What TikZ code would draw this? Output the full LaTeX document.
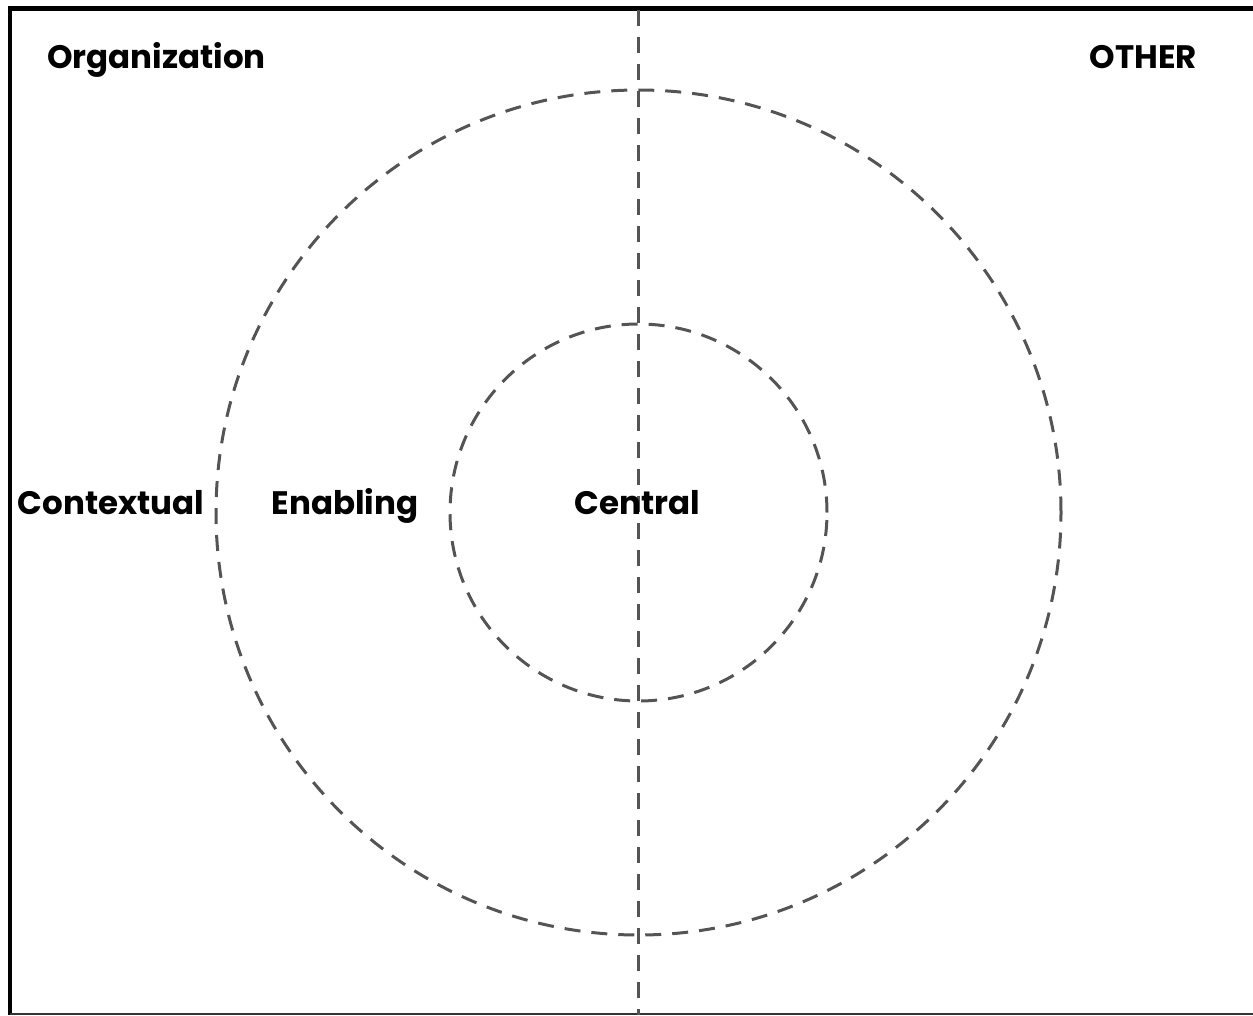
\documentclass[tikz,border=0pt]{standalone}
\usepackage{fontspec}
\setmainfont{Poppins}
\usepackage{tikz}

\begin{document}
\begin{tikzpicture}[x=1pt,y=-1pt]
	\tikzset{ring/.style={shape=circle,draw=black!67,line width=3pt,dash pattern=on 16pt off 11pt,inner sep=0pt},
		lbl/.style={font=\fontsize{32.5}{38}\selectfont\bfseries,inner sep=0pt,anchor=base}}
	\useasboundingbox (0,0) rectangle (1253,1015);

	% frame
	\coordinate (tl) at (10, 8.5);
	\coordinate (tr) at (1253, 8.5);
	\coordinate (bl) at (10, 1015);
	\coordinate (br) at (1253, 1013.5);
	\draw[line width=4.5pt] (tr) -- (tl) -- (bl);
	\draw[line width=2pt, black!80] (10, 1013.5) -- (br);

	% rings
	\node[ring, minimum size=845pt] (outer) at (638.5, 512.5) {};
	\node[ring, minimum size=377pt] (inner) at (638.5, 512.5) {};

	% divider
	\coordinate (top) at (638.5, 10);
	\coordinate (bottom) at (638.5, 1015);
	\path[-, draw=black!67, line width=3pt, dash pattern=on 16pt off 11pt] (top) edge (bottom);

	% labels
	\node[lbl] (org) at (156.5, 68.5) {Organization};
	\node[lbl] (other) at (1143.5, 68.5) {OTHER};
	\node[lbl] (ctx) at (111, 514) {Contextual};
	\node[lbl] (enab) at (345, 514) {Enabling};
	\node[lbl] (cent) at (637.5, 514) {Central};
\end{tikzpicture}
\end{document}
